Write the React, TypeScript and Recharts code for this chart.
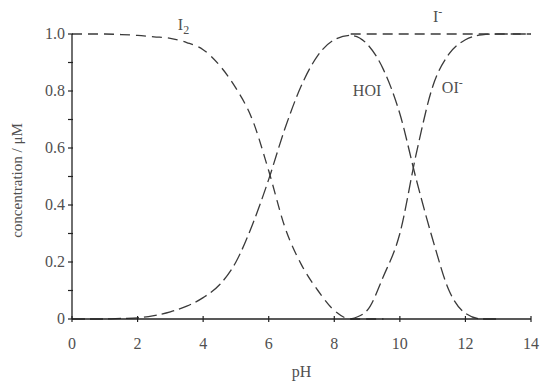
import React from 'react';
import { LineChart, Line, XAxis, YAxis, ReferenceDot } from 'recharts';

// pH grid and species fractions (null = no curve there)
const PH = [0, 0.5, 1, 1.5, 2, 2.5, 3, 3.5, 4, 4.5, 5, 5.5, 6, 6.5, 7, 7.5, 8, 8.5, 9, 9.5, 10, 10.5, 11, 11.5, 12, 12.5, 13, 13.5, 14];
const I2 = [1.0, 1.0, 1.0, 0.998, 0.995, 0.99, 0.985, 0.97, 0.945, 0.89, 0.81, 0.7, 0.52, 0.32, 0.19, 0.1, 0.03, 0.0, 0, 0, null, null, null, null, null, null, null, null, null];
const HOI = [0, 0, 0, 0.002, 0.004, 0.012, 0.025, 0.045, 0.075, 0.12, 0.2, 0.33, 0.49, 0.67, 0.82, 0.925, 0.98, 0.995, 0.965, 0.875, 0.72, 0.49, 0.28, 0.1, 0.02, 0, 0, null, null];
const OI = [null, null, null, null, null, null, null, null, null, null, null, null, null, null, null, null, null, 0, 0.03, 0.15, 0.3, 0.58, 0.815, 0.93, 0.98, 0.997, 1.0, 1.0, 1.0];
const I_MINUS = [null, null, null, null, null, null, null, null, null, null, null, null, null, null, null, null, null, 1.0, 1.0, 1.0, 1.0, 1.0, 1.0, 1.0, 1.0, 1.0, 1.0, 1.0, 1.0];

const X_TICKS = [0, 2, 4, 6, 8, 10, 12, 14];
const Y_TICKS = [0, 0.1, 0.2, 0.3, 0.4, 0.5, 0.6, 0.7, 0.8, 0.9, 1.0];

const data = PH.map((ph, i) => ({ pH: ph, I2: I2[i], HOI: HOI[i], OI: OI[i], Iminus: I_MINUS[i] }));

const FONT = '"Liberation Serif", "Times New Roman", serif';
const TEXT = '#505050';
const LINE = '#3a3a3a';

const YTick = ({ x, y, payload }: any) => {
  const v = payload.value;
  const major = Math.round(v * 10) % 2 === 0;
  return (
    <g>
      <line x1={x - 4} y1={y} x2={x + 1} y2={y} stroke="#222" strokeWidth={1.2} />
      {major && (
        <text x={x - 7} y={y} dy={5} textAnchor="end" fontFamily={FONT} fontSize={16} fill={TEXT}>
          {v === 0 ? '0' : v.toFixed(1)}
        </text>
      )}
    </g>
  );
};

const XTick = ({ x, y, payload }: any) => (
  <g>
    <line x1={x} y1={y - 3} x2={x} y2={y + 3} stroke="#222" strokeWidth={1.2} />
    <text x={x} y={y + 30} textAnchor="middle" fontFamily={FONT} fontSize={16} fill={TEXT}>
      {payload.value}
    </text>
  </g>
);

// species name with optional sub/superscript
const speciesLabel = (main: string, sub?: string, sup?: string) => (props: any) => {
  const { x, y } = props.viewBox;
  return (
    <text x={x} y={y} dy={5} textAnchor="middle" fontFamily={FONT} fontSize={16} fill={TEXT}>
      {main}
      {sub && <tspan dy={4} fontSize={12}>{sub}</tspan>}
      {sup && <tspan dy={-6} fontSize={12}>{sup}</tspan>}
    </text>
  );
};

export default function App() {
  return (
    <div style={{ position: 'absolute', left: 0, top: 0, width: 550, height: 392, background: '#fff' }}>
      <LineChart width={550} height={392} data={data} margin={{ top: 34, right: 19, left: 0, bottom: 0 }}>
        <XAxis
          dataKey="pH"
          type="number"
          domain={[0, 14]}
          ticks={X_TICKS}
          height={73}
          tickSize={0}
          tickMargin={0}
          tickLine={false}
          tick={<XTick />}
          axisLine={{ stroke: '#222', strokeWidth: 1.3 }}
          label={{
            content: (p: any) => (
              <text x={p.viewBox.x + p.viewBox.width / 2} y={p.viewBox.y + 58} textAnchor="middle" fontFamily={FONT} fontSize={16} fill={TEXT}>
                pH
              </text>
            ),
          }}
        />
        <YAxis
          type="number"
          domain={[0, 1]}
          ticks={Y_TICKS}
          width={72}
          tickSize={0}
          tickMargin={0}
          tickLine={false}
          tick={<YTick />}
          axisLine={{ stroke: '#222', strokeWidth: 1.3 }}
          label={{
            content: (p: any) => {
              const cx = 17;
              const cy = p.viewBox.y + p.viewBox.height / 2 + 4;
              return (
                <text x={cx} y={cy} transform={`rotate(-90 ${cx} ${cy})`} dy={5} textAnchor="middle" fontFamily={FONT} fontSize={15} fill={TEXT}>
                  concentration / μM
                </text>
              );
            },
          }}
        />
        <Line dataKey="Iminus" type="monotone" stroke={LINE} strokeWidth={1.3} strokeDasharray="10 6" dot={false} isAnimationActive={false} />
        <Line dataKey="I2" type="monotone" stroke={LINE} strokeWidth={1.3} strokeDasharray="10 6" dot={false} isAnimationActive={false} />
        <Line dataKey="HOI" type="monotone" stroke={LINE} strokeWidth={1.3} strokeDasharray="13 5" dot={false} isAnimationActive={false} />
        <Line dataKey="OI" type="monotone" stroke={LINE} strokeWidth={1.3} strokeDasharray="13 5" dot={false} isAnimationActive={false} />
        <ReferenceDot x={3.4} y={1.03} r={0} ifOverflow="visible" label={{ content: speciesLabel('I', '2') }} />
        <ReferenceDot x={11.15} y={1.06} r={0} ifOverflow="visible" label={{ content: speciesLabel('I', undefined, '-') }} />
        <ReferenceDot x={9.0} y={0.8} r={0} ifOverflow="visible" label={{ content: speciesLabel('HOI') }} />
        <ReferenceDot x={11.6} y={0.81} r={0} ifOverflow="visible" label={{ content: speciesLabel('OI', undefined, '-') }} />
      </LineChart>
    </div>
  );
}
